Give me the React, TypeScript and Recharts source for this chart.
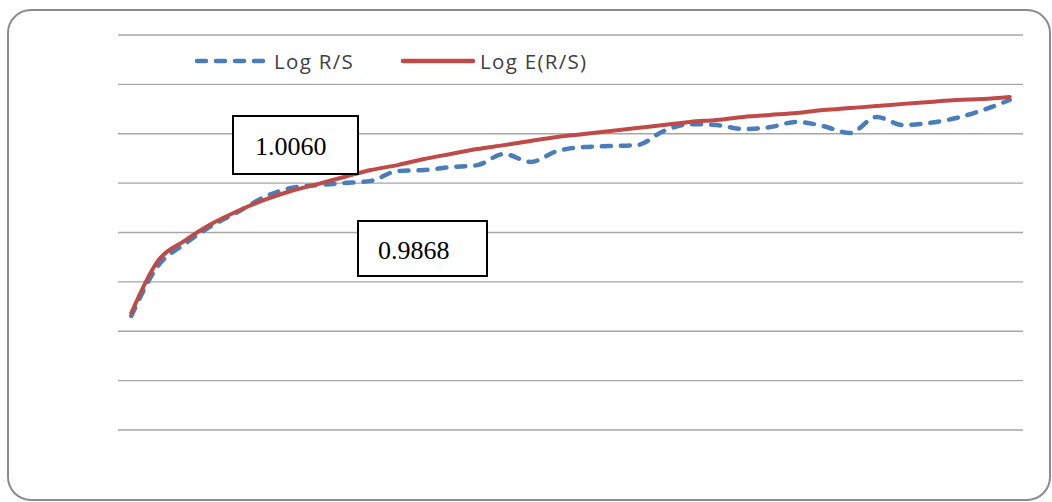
import { LineChart, Line, XAxis, YAxis, CartesianGrid } from "recharts";

// sub-period index (one point per window size)
const periods = [
  1, 2, 3, 4, 5, 6, 7, 8, 9, 10, 11, 12, 13, 14, 15, 16, 17,
  18, 19, 20, 21, 22, 23, 24, 25, 26, 27, 28, 29, 30, 31, 32, 33, 34,
];

// observed log rescaled range
const logRS = [
  0.462, 0.664, 0.753, 0.826, 0.883, 0.944, 0.98, 0.992, 1.0, 1.009, 1.049, 1.053,
  1.065, 1.073, 1.118, 1.086, 1.13, 1.146, 1.15, 1.154, 1.211, 1.239, 1.235, 1.219,
  1.227, 1.248, 1.231, 1.203, 1.268, 1.235, 1.244, 1.264, 1.296, 1.337,
];

// expected log rescaled range
const logERS = [
  0.474, 0.685, 0.766, 0.834, 0.887, 0.932, 0.968, 0.996, 1.025, 1.053, 1.073, 1.098,
  1.118, 1.138, 1.154, 1.171, 1.187, 1.199, 1.211, 1.223, 1.235, 1.248, 1.256, 1.268,
  1.276, 1.284, 1.296, 1.304, 1.312, 1.321, 1.329, 1.337, 1.341, 1.349,
];

const yTicks = [0, 0.2, 0.4, 0.6, 0.8, 1.0, 1.2, 1.4, 1.6];

const hurstObserved = "1.0060";
const hurstExpected = "0.9868";

const data = periods.map((n, i) => ({ n, rs: logRS[i], ers: logERS[i] }));

const BLUE = "#4a7ebb";
const RED = "#be4b48";
const DASH = "9 10";

const series = [
  { key: "rs", name: "Log R/S", color: BLUE, dash: DASH },
  { key: "ers", name: "Log E(R/S)", color: RED, dash: undefined },
];

// legend sits inside the top grid band, outside the chart's layout
const LegendRow = () => (
  <div
    style={{
      position: "absolute",
      left: 194,
      top: 49,
      display: "flex",
      alignItems: "center",
      fontFamily: "'Open Sans', sans-serif",
      fontSize: 20.5,
      letterSpacing: 1.3,
      lineHeight: "24px",
      color: "#404040",
    }}
  >
    {series.map((s, i) => (
      <div key={s.key} style={{ display: "flex", alignItems: "center", marginRight: i === 0 ? 46 : 0 }}>
        <svg width={76} height={10} style={{ marginRight: 4 }}>
          <line
            x1={3}
            y1={5}
            x2={73}
            y2={5}
            stroke={s.color}
            strokeWidth={4.5}
            strokeLinecap="round"
            strokeDasharray={s.dash}
          />
        </svg>
        <span>{s.name}</span>
      </div>
    ))}
  </div>
);

const noteBox = (left: number, top: number, width: number, height: number, pad: number) => ({
  position: "absolute" as const,
  left,
  top,
  width,
  height,
  boxSizing: "border-box" as const,
  border: "2px solid #000",
  background: "#fff",
  fontFamily: "'Liberation Serif', 'Times New Roman', serif",
  fontSize: 26,
  color: "#000",
  display: "flex",
  alignItems: "center",
  paddingLeft: pad,
  paddingTop: 4,
});

export default function App() {
  return (
    <div style={{ position: "absolute", left: 0, top: 0, width: 1052, height: 502, background: "#fff" }}>
      <div
        style={{
          position: "absolute",
          left: 7,
          top: 9,
          width: 1044,
          height: 492,
          boxSizing: "border-box",
          border: "2px solid #8c8c8c",
          borderRadius: 24,
        }}
      />
      <div style={{ position: "absolute", left: 0, top: 0 }}>
        <LineChart width={1052} height={502} data={data} margin={{ top: 35, left: 118, right: 29, bottom: 72 }}>
          <CartesianGrid vertical={false} stroke="#a6a6a6" strokeWidth={1.3} />
          <XAxis dataKey="n" type="number" domain={[0.5, 34.5]} hide />
          <YAxis domain={[0, 1.6]} ticks={yTicks} hide />
          {series.map((s) => (
            <Line
              key={s.key}
              name={s.name}
              dataKey={s.key}
              type="monotone"
              stroke={s.color}
              strokeWidth={s.dash ? 4.5 : 4}
              strokeDasharray={s.dash}
              strokeLinecap="round"
              dot={false}
              isAnimationActive={false}
            />
          ))}
        </LineChart>
      </div>
      <LegendRow />
      <div style={noteBox(232, 115, 127, 60, 21)}>{hurstObserved}</div>
      <div style={noteBox(357, 220, 131, 57, 19)}>{hurstExpected}</div>
    </div>
  );
}
